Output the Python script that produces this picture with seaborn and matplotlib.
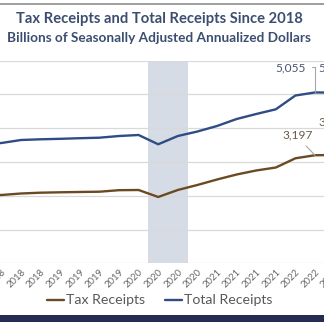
import matplotlib
matplotlib.use("Agg")
import numpy as np
import pandas as pd
import seaborn as sns
import matplotlib.pyplot as plt
from matplotlib.patches import Rectangle
from matplotlib.lines import Line2D

# Quarterly data, 2018 Q1 - 2022 Q3 (billions, SAAR)
years = ["2018"] * 4 + ["2019"] * 4 + ["2020"] * 4 + ["2021"] * 4 + ["2022"] * 3
tax_receipts = [2010, 2021, 2065, 2089, 2101, 2110, 2118, 2163, 2169, 1962,
                2169, 2317, 2479, 2627, 2746, 2834, 3107, 3197, 3204]
total_receipts = [3520, 3559, 3648, 3669, 3683, 3701, 3716, 3766, 3796, 3521,
                  3766, 3899, 4062, 4269, 4417, 4556, 4964, 5055, 5050]
series_names = ["Tax Receipts", "Total Receipts"]
recession_quarters = (9, 10)  # 2020 Q2 - 2020 Q3
labelled_quarters = [17, 18]

TAX_COLOR = "#6B4A22"
TOTAL_COLOR = "#2F4C84"
TEXT_COLOR = "#3C4E70"
GRAY = "#595959"

sns.set_theme(style="white")
plt.rcParams["font.family"] = ["Lato", "DejaVu Sans"]

W, H = 324, 322
fig = plt.figure(figsize=(W / 100, H / 100), dpi=100)
fig.patch.set_facecolor("white")

n = len(years)
idx = np.arange(n)
df = pd.DataFrame({
    "quarter": np.concatenate([idx, idx]),
    "value": tax_receipts + total_receipts,
    "series": [series_names[0]] * n + [series_names[1]] * n,
})

# plot area is wider than the canvas; the edges are cut by the figure
x0_px, x1_px = -28.0, 344.4
y0_px, y1_px = 263.3, 60.5
ax = fig.add_axes([x0_px / W, (H - y0_px) / H, (x1_px - x0_px) / W, (y0_px - y1_px) / H])

ax.axvspan(recession_quarters[0] - 0.5, recession_quarters[1] + 0.5,
           color="#D6DCE5", zorder=0, lw=0)

sns.lineplot(data=df, x="quarter", y="value", hue="series",
             palette={series_names[0]: TAX_COLOR, series_names[1]: TOTAL_COLOR},
             linewidth=1.7, legend=False, ax=ax, zorder=3)

ax.set_xlim(-0.5, n - 0.5)
ax.set_ylim(0, 6000)
ax.set_yticks(range(0, 7000, 1000))
ax.yaxis.grid(True, color="#D9D9D9", lw=0.9)
ax.xaxis.grid(False)
ax.set_axisbelow(True)
for s in ax.spines.values():
    s.set_visible(False)
ax.set_xlabel("")
ax.set_ylabel("")
ax.tick_params(axis="y", left=False, labelleft=False)
ax.set_xticks(idx)
ax.set_xticklabels(years, rotation=45, ha="right", rotation_mode="anchor",
                   fontsize=6.8, color="#666666")
ax.tick_params(axis="x", length=0, pad=3)

# value labels on the latest quarters
for q in labelled_quarters:
    v = total_receipts[q]
    ax.annotate(f"{v:,}", xy=(q, v), xytext=(-24 if q == 17 else -1, 25),
                textcoords="offset pixels", ha="center", va="center",
                fontsize=8.6, color="#4A5670",
                arrowprops=dict(arrowstyle="-", color="#A6A6A6", lw=0.8,
                                connectionstyle="angle,angleA=0,angleB=90,rad=0",
                                relpos=(1, 0.5), shrinkA=2, shrinkB=0)
                if q == 17 else None)
    v = tax_receipts[q]
    ax.annotate(f"{v:,}", xy=(q, v), xytext=(-17 if q == 17 else -1, 20 if q == 17 else 33),
                textcoords="offset pixels", ha="center", va="center",
                fontsize=8.6, color="#6A5A48",
                arrowprops=dict(arrowstyle="-", color="#A6A6A6", lw=0.8,
                                relpos=(0.6, 0), shrinkA=2, shrinkB=0)
                if q == 17 else None)

# titles
fig.text(159 / W, 1 - 19.5 / H, "Tax Receipts and Total Receipts Since 2018",
         ha="center", va="center", fontsize=10.6, fontweight="bold", color=TEXT_COLOR)
fig.text(158.5 / W, 1 - 38 / H, "Billions of Seasonally Adjusted Annualized Dollars",
         ha="center", va="center", fontsize=9.8, fontweight="bold", color=TEXT_COLOR)

# legend
handles = [Line2D([], [], color=TAX_COLOR, lw=1.7),
           Line2D([], [], color=TOTAL_COLOR, lw=1.7)]
fig.legend(handles, series_names, loc="center", bbox_to_anchor=(160 / W, 1 - 300.5 / H),
           ncol=2, frameon=False, fontsize=10.2, handlelength=1.2, handletextpad=0.15,
           columnspacing=1.4, labelcolor=GRAY)

# frame decorations
fig.add_artist(Rectangle((0, 1 - 5 / H), 1, 1.8 / H, transform=fig.transFigure,
                         color="#A0A0A0", lw=0))
fig.add_artist(Rectangle((0, 0), 1, 7.5 / H, transform=fig.transFigure,
                         color="#252B52", lw=0))

fig.savefig("out.png", dpi=100)
